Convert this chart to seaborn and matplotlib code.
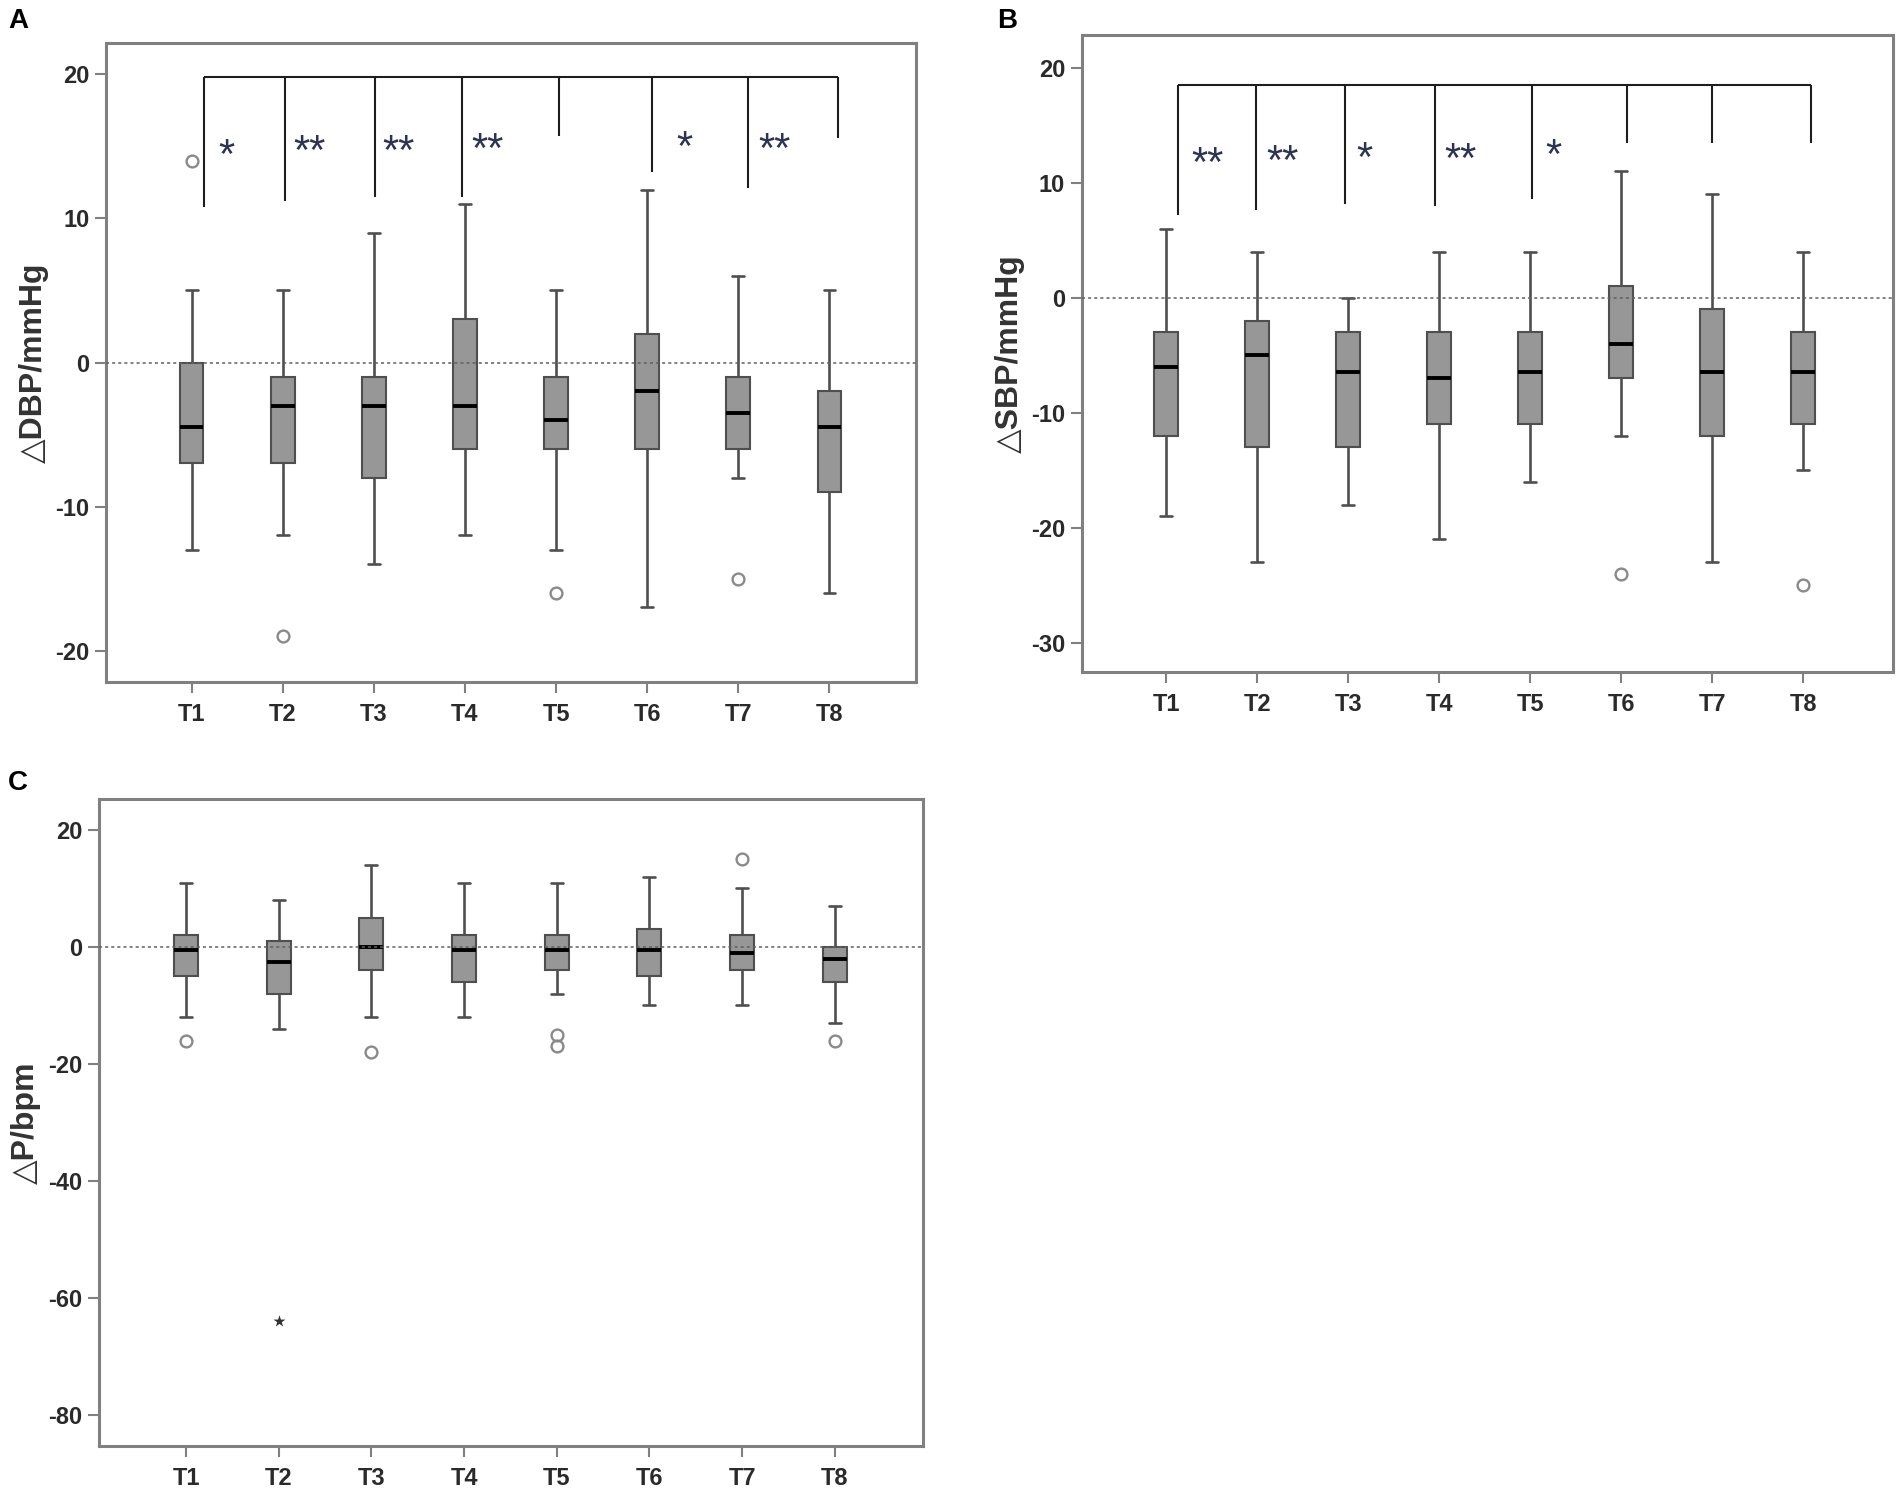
import numpy as np
import pandas as pd
import matplotlib
matplotlib.use("Agg")
import matplotlib.pyplot as plt
import matplotlib.transforms as mtransforms
import seaborn as sns

# ---------------- data ----------------
times = ["T1", "T2", "T3", "T4", "T5", "T6", "T7", "T8"]

# Panel A : delta DBP (mmHg) five-number summaries + outliers
dbp_lo = [-13, -12, -14, -12, -13, -17, -8, -16]
dbp_q1 = [-7, -7, -8, -6, -6, -6, -6, -9]
dbp_med = [-4.5, -3, -3, -3, -4, -2, -3.5, -4.5]
dbp_q3 = [0, -1, -1, 3, -1, 2, -1, -2]
dbp_hi = [5, 5, 9, 11, 5, 12, 6, 5]
dbp_out = [[14], [-19], [], [], [-16], [], [-15], []]

# Panel B : delta SBP (mmHg)
sbp_lo = [-19, -23, -18, -21, -16, -12, -23, -15]
sbp_q1 = [-12, -13, -13, -11, -11, -7, -12, -11]
sbp_med = [-6, -5, -6.5, -7, -6.5, -4, -6.5, -6.5]
sbp_q3 = [-3, -2, -3, -3, -3, 1, -1, -3]
sbp_hi = [6, 4, 0, 4, 4, 11, 9, 4]
sbp_out = [[], [], [], [], [], [-24], [], [-25]]

# Panel C : delta P (bpm)
p_lo = [-12, -14, -12, -12, -8, -10, -10, -13]
p_q1 = [-5, -8, -4, -6, -4, -5, -4, -6]
p_med = [-0.5, -2.5, 0, -0.5, -0.5, -0.5, -1, -2]
p_q3 = [2, 1, 5, 2, 2, 3, 2, 0]
p_hi = [11, 8, 14, 11, 11, 12, 10, 7]
p_out = [[-16], [], [-18], [], [-15, -17], [], [15], [-16]]
p_extreme_time = ["T2"]
p_extreme_val = [-64]

# significance brackets
sigA_x = [0.14, 1.03, 2.01, 2.97, 4.03, 5.05, 6.11, 7.09]
sigA_bottom = [10.8, 11.2, 11.5, 11.5, 15.7, 13.2, 12.1, 15.6]
sigA_top = 19.85
starsA_text = ["*", "**", "**", "**", "*", "**"]
starsA_x = [0.38, 1.29, 2.27, 3.25, 5.41, 6.40]
starsA_y = [14.95, 15.2, 15.2, 15.4, 15.5, 15.35]

sigB_x = [0.13, 0.99, 1.97, 2.95, 4.02, 5.06, 6.0, 7.09]
sigB_bottom = [7.2, 7.65, 8.1, 8.0, 8.6, 13.4, 13.4, 13.4]
sigB_top = 18.5
starsB_text = ["**", "**", "*", "**", "*"]
starsB_x = [0.45, 1.28, 2.18, 3.23, 4.26]
starsB_y = [12.4, 12.6, 12.8, 12.7, 13.1]


def build(lo, q1, med, q3, hi, out):
    """Sample set whose box-plot statistics equal the read summaries."""
    rows = []
    for t, a, b, c, d, e, o in zip(times, lo, q1, med, q3, hi, out):
        vals = [a] + [b] * 10 + [c] * 10 + [d] * 10 + [e] + list(o)
        rows += [(t, v) for v in vals]
    return pd.DataFrame(rows, columns=["time", "value"])


dfA = build(dbp_lo, dbp_q1, dbp_med, dbp_q3, dbp_hi, dbp_out)
dfB = build(sbp_lo, sbp_q1, sbp_med, sbp_q3, sbp_hi, sbp_out)
dfC = build(p_lo, p_q1, p_med, p_q3, p_hi, p_out)
dfC_ext = pd.DataFrame({"time": p_extreme_time, "value": p_extreme_val})

# ---------------- style ----------------
sns.set_style("white")
plt.rcParams["font.family"] = ["Liberation Sans", "DejaVu Sans"]
plt.rcParams["font.weight"] = "bold"
plt.rcParams["axes.unicode_minus"] = False

BOX_FILL = "#979797"
EDGE = "#4f4f4f"
FRAME = "#808080"
TXT = "#2a2a2a"

fig = plt.figure(figsize=(19.02, 14.93), dpi=100)
axA = fig.add_axes([0.0557, 0.543, 0.4259, 0.4284])
axB = fig.add_axes([0.5687, 0.5496, 0.4266, 0.4270])
axC = fig.add_axes([0.0520, 0.0315, 0.4332, 0.4334])


def style_axis(ax, ylabel):
    ax.set_xlabel("")
    ax.set_ylabel(ylabel, fontsize=23, fontweight="bold", color="#333333",
                  va="center")
    ax.yaxis.set_label_coords(-0.089, 0.5)
    for lab in ax.get_xticklabels() + ax.get_yticklabels():
        lab.set_fontweight("bold")


def draw_panel(ax, df, ylabel, ylim, yticks, xlim):
    sns.boxplot(
        data=df, x="time", y="value", order=times, ax=ax,
        color=BOX_FILL, saturation=1, width=0.26, whis=1.5,
        linecolor=EDGE, linewidth=1.5,
        medianprops=dict(color="black", linewidth=2.8),
        whiskerprops=dict(color=EDGE, linewidth=1.9),
        capprops=dict(color=EDGE, linewidth=1.9),
        flierprops=dict(marker="o", markerfacecolor="none",
                        markeredgecolor="#8a8a8a", markersize=8.5,
                        markeredgewidth=1.7),
    )
    ax.axhline(0, color="#606060", linewidth=1.1, linestyle=(0, (2, 2)), zorder=5)
    ax.set_xlim(*xlim)
    ax.set_ylim(*ylim)
    ax.set_yticks(yticks)
    for s in ax.spines.values():
        s.set_visible(True)
        s.set_color(FRAME)
        s.set_linewidth(2.2)
    ax.tick_params(axis="both", which="major", direction="out", length=8,
                   width=1.5, color=FRAME, labelsize=17, labelcolor=TXT,
                   bottom=True, left=True, top=False, right=False, pad=4)
    ax.tick_params(axis="x", pad=7)
    style_axis(ax, ylabel)


def draw_brackets(ax, xs, bottoms, top, stxt, sx, sy):
    ax.plot([xs[0], xs[-1]], [top, top], color="#1e1e1e", linewidth=1.5,
            solid_capstyle="butt", zorder=4)
    for x, b in zip(xs, bottoms):
        ax.plot([x, x], [b, top], color="#1e1e1e", linewidth=1.5,
                solid_capstyle="butt", zorder=4)
    fs = 30
    trans = mtransforms.offset_copy(ax.transData, fig=fig, x=0,
                                    y=-0.5 * fs, units="points")
    for t, x, y in zip(stxt, sx, sy):
        ax.text(x, y, t, transform=trans, ha="center", va="baseline",
                fontsize=fs, fontweight="normal", color="#2d3352", zorder=6)


draw_panel(axA, dfA, "\u25b3DBP/mmHg", (-22.2, 22.2), [-20, -10, 0, 10, 20],
           (-0.94, 7.95))
draw_brackets(axA, sigA_x, sigA_bottom, sigA_top, starsA_text, starsA_x, starsA_y)

draw_panel(axB, dfB, "\u25b3SBP/mmHg", (-32.6, 22.84), [-30, -20, -10, 0, 10, 20],
           (-0.93, 7.99))
draw_brackets(axB, sigB_x, sigB_bottom, sigB_top, starsB_text, starsB_x, starsB_y)

draw_panel(axC, dfC, "\u25b3P/bpm", (-85.3, 25.3), [-80, -60, -40, -20, 0, 20],
           (-0.94, 7.95))
sns.stripplot(data=dfC_ext, x="time", y="value", order=times, ax=axC,
              jitter=False, marker="*", size=9, color="#333333",
              linewidth=0, zorder=6)
axC.set_xlim(-0.94, 7.95)
style_axis(axC, "\u25b3P/bpm")

# panel letters
for letter, (px, py) in {"A": (18, 21.5), "B": (1007, 21.5), "C": (17.5, 783)}.items():
    fig.text(px / 1902, 1 - py / 1493, letter, fontsize=20, fontweight="bold",
             ha="center", va="center", color="black")

fig.savefig("out.png", dpi=100, facecolor="white")
